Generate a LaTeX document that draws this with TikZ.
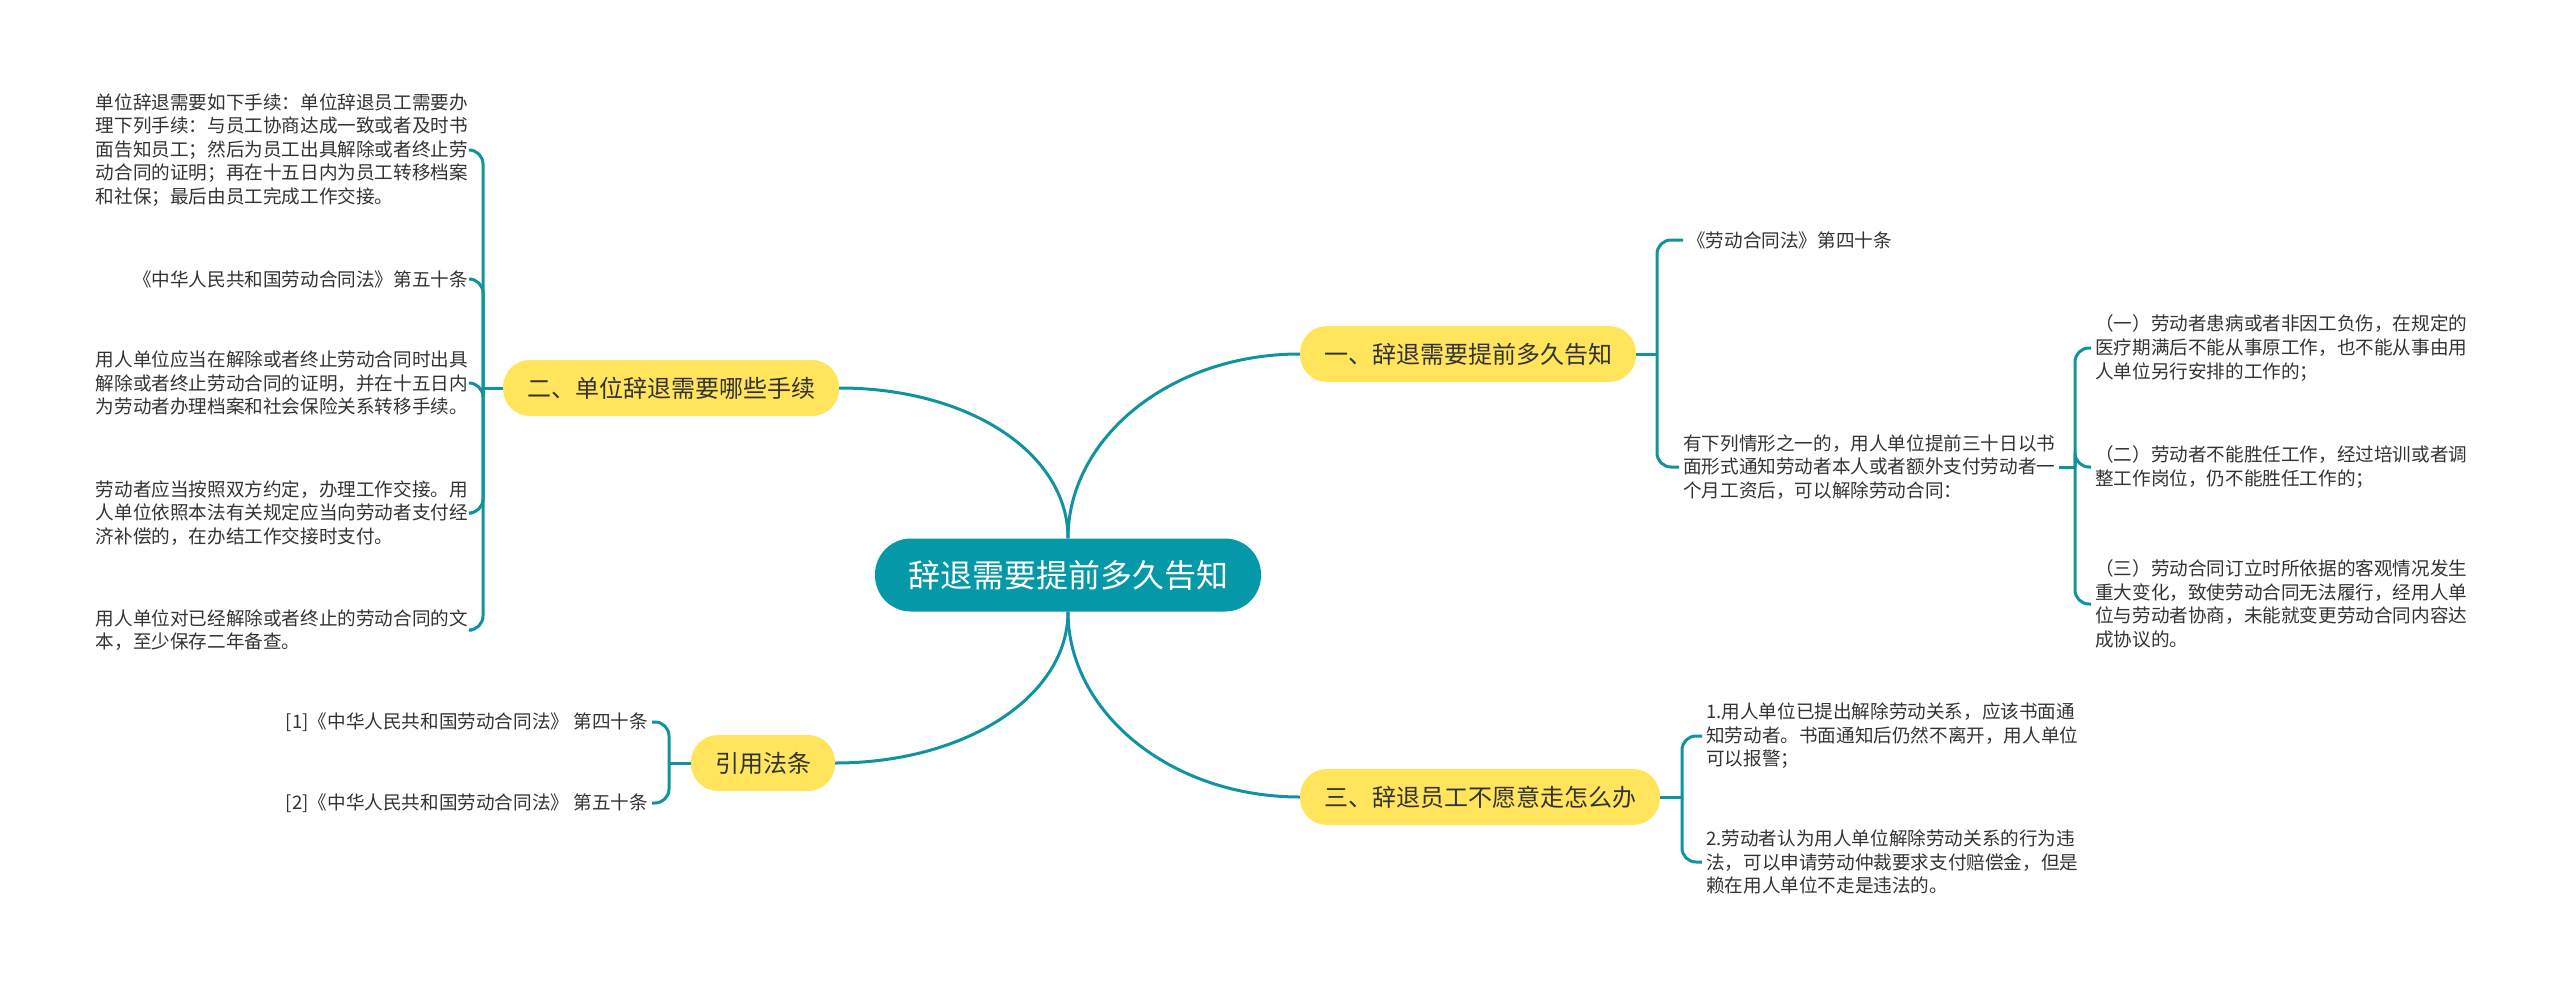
\documentclass[tikz,border=0pt]{standalone}
\usepackage{fontspec}
\setmainfont{Noto Sans CJK SC}
\usepackage{tikz}
\usetikzlibrary{positioning}
\definecolor{rootteal}{RGB}{4,152,168}
\definecolor{lineteal}{RGB}{16,146,160}
\definecolor{topicyellow}{RGB}{255,228,92}
\definecolor{textgray}{RGB}{51,51,51}
\tikzstyle{racine}=[rectangle,rounded corners=36pt,fill=rootteal,text=white,
        font=\fontsize{32}{36}\selectfont,minimum height=73pt,minimum width=386pt,inner sep=0pt]
\tikzstyle{theme}=[rectangle,rounded corners=27pt,fill=topicyellow,text=textgray,
        font=\fontsize{24}{28}\selectfont,minimum height=56pt,inner xsep=24pt,inner ysep=0pt]
\tikzstyle{feuilleg}=[anchor=east,align=left,text=textgray,inner sep=4pt,
        font=\fontsize{18.6}{23.6}\selectfont]
\tikzstyle{feuilled}=[anchor=west,align=left,text=textgray,inner sep=4pt,
        font=\fontsize{18.6}{23.6}\selectfont]
\tikzstyle{lien}=[line width=3pt,draw=lineteal]
\tikzstyle{crochet}=[line width=3pt,draw=lineteal,rounded corners=14pt]
\begin{document}
\begin{tikzpicture}[x=1pt,y=-1pt]
\useasboundingbox (0,0) rectangle (2560,985);
\node[racine] (root) at (1068,575) {辞退需要提前多久告知};
\node[theme] (q1) at (1468,354) {一、辞退需要提前多久告知};
\node[theme] (q2) at (671,388) {二、单位辞退需要哪些手续};
\node[theme] (q3) at (1480,797) {三、辞退员工不愿意走怎么办};
\node[theme] (refs) at (763,763) {引用法条};
% un
\node[feuilled] (q1a) at (1683,240) {《劳动合同法》第四十条};
\node[feuilled] (q1b) at (1679,467) {有下列情形之一的，用人单位提前三十日以书\\面形式通知劳动者本人或者额外支付劳动者一\\个月工资后，可以解除劳动合同：};
\node[feuilled] (q1b1) at (2091,348) {（一）劳动者患病或者非因工负伤，在规定的\\医疗期满后不能从事原工作，也不能从事由用\\人单位另行安排的工作的；};
\node[feuilled] (q1b2) at (2091,467) {（二）劳动者不能胜任工作，经过培训或者调\\整工作岗位，仍不能胜任工作的；};
\node[feuilled] (q1b3) at (2091,604) {（三）劳动合同订立时所依据的客观情况发生\\重大变化，致使劳动合同无法履行，经用人单\\位与劳动者协商，未能就变更劳动合同内容达\\成协议的。};
% deux
\node[feuilleg] (q2a) at (472,150) {单位辞退需要如下手续：单位辞退员工需要办\\理下列手续：与员工协商达成一致或者及时书\\面告知员工；然后为员工出具解除或者终止劳\\动合同的证明；再在十五日内为员工转移档案\\和社保；最后由员工完成工作交接。};
\node[feuilleg] (q2b) at (472,279) {《中华人民共和国劳动合同法》第五十条};
\node[feuilleg] (q2c) at (472,383) {用人单位应当在解除或者终止劳动合同时出具\\解除或者终止劳动合同的证明，并在十五日内\\为劳动者办理档案和社会保险关系转移手续。};
\node[feuilleg] (q2d) at (472,513) {劳动者应当按照双方约定，办理工作交接。用\\人单位依照本法有关规定应当向劳动者支付经\\济补偿的，在办结工作交接时支付。};
\node[feuilleg] (q2e) at (472,630) {用人单位对已经解除或者终止的劳动合同的文\\本，至少保存二年备查。};
% trois
\node[feuilled] (q3a) at (1702,736) {1.用人单位已提出解除劳动关系，应该书面通\\知劳动者。书面通知后仍然不离开，用人单位\\可以报警；};
\node[feuilled] (q3b) at (1702,862) {2.劳动者认为用人单位解除劳动关系的行为违\\法，可以申请劳动仲裁要求支付赔偿金，但是\\赖在用人单位不走是违法的。};
% references
\node[feuilleg] (refsa) at (652,722) {[1]《中华人民共和国劳动合同法》 第四十条};
\node[feuilleg] (refsb) at (652,803) {[2]《中华人民共和国劳动合同法》 第五十条};
\coordinate (j1) at (1657,354);
\coordinate (j1b) at (2075,467);
\coordinate (j2) at (483,388);
\coordinate (j3) at (1682,797);
\coordinate (jr) at (669,763);
%liens
\draw[lien] (root.north) .. controls +(0,-100) and +(-130,0) .. (q1.west);
\draw[lien] (root.north) .. controls +(0,-85) and +(130,0) .. (q2.east);
\draw[lien] (root.south) .. controls +(0,100) and +(-130,0) .. (q3.west);
\draw[lien] (root.south) .. controls +(0,85) and +(130,0) .. (refs.east);
\draw[lien] (q1.east) -- (j1);
\draw[crochet] (j1) |- (q1a.west);
\draw[crochet] (j1) |- (q1b.west);
\draw[lien] (q1b.east) -- (j1b);
\draw[crochet] (j1b) |- (q1b1.west);
\draw[crochet] (j1b) |- (q1b2.west);
\draw[crochet] (j1b) |- (q1b3.west);
\draw[lien] (q2.west) -- (j2);
\draw[crochet] (j2) |- (q2a.east);
\draw[crochet] (j2) |- (q2b.east);
\draw[crochet] (j2) |- (q2c.east);
\draw[crochet] (j2) |- (q2d.east);
\draw[crochet] (j2) |- (q2e.east);
\draw[lien] (q3.east) -- (j3);
\draw[crochet] (j3) |- (q3a.west);
\draw[crochet] (j3) |- (q3b.west);
\draw[lien] (refs.west) -- (jr);
\draw[crochet] (jr) |- (refsa.east);
\draw[crochet] (jr) |- (refsb.east);
\end{tikzpicture}
\end{document}
